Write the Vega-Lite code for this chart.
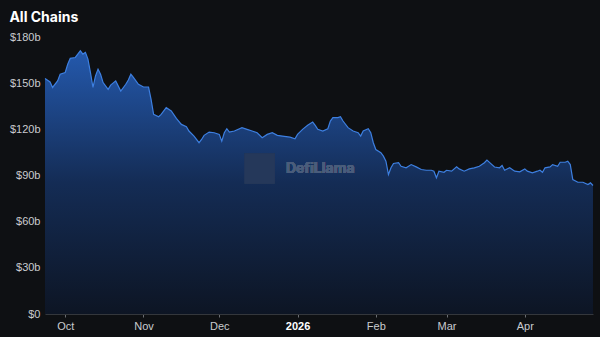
{
  "$schema": "https://vega.github.io/schema/vega-lite/v6.json",
  "width": 548,
  "height": 277,
  "autosize": {"type": "none"},
  "padding": {"left": 45, "top": 37, "right": 7, "bottom": 23},
  "background": "#0e1013",
  "title": {"text": "All Chains", "anchor": "start", "dx": 0, "offset": 6, "color": "#ffffff", "fontSize": 14, "fontWeight": "bold", "font": "Inter"},
  "config": {
    "view": {"stroke": null},
    "axis": {"labelFont": "Liberation Sans", "labelFontSize": 11, "labelColor": "#c9cbcf", "grid": false}
  },
  "data": {"values": [
    {"date": "2025-09-23", "tvl": 153.0},
    {"date": "2025-09-25", "tvl": 150.8},
    {"date": "2025-09-26", "tvl": 147.2},
    {"date": "2025-09-28", "tvl": 151.5},
    {"date": "2025-09-29", "tvl": 155.8},
    {"date": "2025-10-01", "tvl": 156.9},
    {"date": "2025-10-02", "tvl": 162.3},
    {"date": "2025-10-03", "tvl": 166.1},
    {"date": "2025-10-05", "tvl": 166.7},
    {"date": "2025-10-07", "tvl": 171.0},
    {"date": "2025-10-08", "tvl": 168.9},
    {"date": "2025-10-09", "tvl": 170.0},
    {"date": "2025-10-10", "tvl": 165.6},
    {"date": "2025-10-11", "tvl": 156.9},
    {"date": "2025-10-12", "tvl": 147.2},
    {"date": "2025-10-13", "tvl": 154.7},
    {"date": "2025-10-14", "tvl": 159.1},
    {"date": "2025-10-15", "tvl": 155.8},
    {"date": "2025-10-16", "tvl": 150.4},
    {"date": "2025-10-18", "tvl": 146.0},
    {"date": "2025-10-19", "tvl": 148.7},
    {"date": "2025-10-21", "tvl": 151.5},
    {"date": "2025-10-23", "tvl": 144.9},
    {"date": "2025-10-25", "tvl": 149.3},
    {"date": "2025-10-26", "tvl": 152.1},
    {"date": "2025-10-27", "tvl": 155.8},
    {"date": "2025-10-28", "tvl": 153.7},
    {"date": "2025-10-30", "tvl": 149.3},
    {"date": "2025-11-01", "tvl": 147.5},
    {"date": "2025-11-03", "tvl": 147.5},
    {"date": "2025-11-04", "tvl": 139.5},
    {"date": "2025-11-05", "tvl": 129.7},
    {"date": "2025-11-07", "tvl": 128.2},
    {"date": "2025-11-08", "tvl": 129.7},
    {"date": "2025-11-10", "tvl": 134.1},
    {"date": "2025-11-12", "tvl": 131.9},
    {"date": "2025-11-14", "tvl": 127.1},
    {"date": "2025-11-16", "tvl": 123.2},
    {"date": "2025-11-18", "tvl": 121.7},
    {"date": "2025-11-19", "tvl": 118.9},
    {"date": "2025-11-21", "tvl": 115.6},
    {"date": "2025-11-23", "tvl": 111.3},
    {"date": "2025-11-24", "tvl": 113.4},
    {"date": "2025-11-25", "tvl": 116.1},
    {"date": "2025-11-27", "tvl": 118.2},
    {"date": "2025-11-29", "tvl": 117.8},
    {"date": "2025-12-01", "tvl": 116.7},
    {"date": "2025-12-02", "tvl": 112.3},
    {"date": "2025-12-03", "tvl": 117.8},
    {"date": "2025-12-04", "tvl": 120.4},
    {"date": "2025-12-05", "tvl": 118.2},
    {"date": "2025-12-07", "tvl": 118.9},
    {"date": "2025-12-10", "tvl": 121.1},
    {"date": "2025-12-12", "tvl": 120.0},
    {"date": "2025-12-14", "tvl": 118.9},
    {"date": "2025-12-16", "tvl": 117.8},
    {"date": "2025-12-18", "tvl": 114.6},
    {"date": "2025-12-20", "tvl": 116.7},
    {"date": "2025-12-22", "tvl": 117.8},
    {"date": "2025-12-24", "tvl": 116.1},
    {"date": "2025-12-26", "tvl": 115.6},
    {"date": "2025-12-29", "tvl": 114.9},
    {"date": "2025-12-31", "tvl": 113.9},
    {"date": "2026-01-01", "tvl": 116.7},
    {"date": "2026-01-03", "tvl": 120.0},
    {"date": "2026-01-05", "tvl": 122.6},
    {"date": "2026-01-07", "tvl": 124.7},
    {"date": "2026-01-08", "tvl": 122.6},
    {"date": "2026-01-09", "tvl": 120.0},
    {"date": "2026-01-11", "tvl": 118.9},
    {"date": "2026-01-13", "tvl": 120.4},
    {"date": "2026-01-14", "tvl": 125.4},
    {"date": "2026-01-15", "tvl": 127.6},
    {"date": "2026-01-17", "tvl": 127.6},
    {"date": "2026-01-18", "tvl": 128.2},
    {"date": "2026-01-19", "tvl": 125.4},
    {"date": "2026-01-21", "tvl": 121.1},
    {"date": "2026-01-23", "tvl": 118.9},
    {"date": "2026-01-25", "tvl": 117.8},
    {"date": "2026-01-26", "tvl": 115.6},
    {"date": "2026-01-27", "tvl": 118.9},
    {"date": "2026-01-29", "tvl": 120.4},
    {"date": "2026-01-30", "tvl": 117.8},
    {"date": "2026-01-31", "tvl": 111.3},
    {"date": "2026-02-01", "tvl": 106.9},
    {"date": "2026-02-03", "tvl": 104.8},
    {"date": "2026-02-04", "tvl": 102.6},
    {"date": "2026-02-05", "tvl": 99.3},
    {"date": "2026-02-06", "tvl": 90.6},
    {"date": "2026-02-07", "tvl": 95.0},
    {"date": "2026-02-08", "tvl": 97.8},
    {"date": "2026-02-10", "tvl": 98.3},
    {"date": "2026-02-11", "tvl": 96.0},
    {"date": "2026-02-13", "tvl": 95.0},
    {"date": "2026-02-15", "tvl": 97.1},
    {"date": "2026-02-17", "tvl": 95.6},
    {"date": "2026-02-19", "tvl": 93.9},
    {"date": "2026-02-21", "tvl": 93.4},
    {"date": "2026-02-23", "tvl": 93.4},
    {"date": "2026-02-24", "tvl": 92.8},
    {"date": "2026-02-25", "tvl": 88.5},
    {"date": "2026-02-26", "tvl": 92.8},
    {"date": "2026-02-28", "tvl": 92.1},
    {"date": "2026-03-01", "tvl": 93.4},
    {"date": "2026-03-03", "tvl": 92.8},
    {"date": "2026-03-05", "tvl": 95.6},
    {"date": "2026-03-06", "tvl": 94.3},
    {"date": "2026-03-08", "tvl": 92.8},
    {"date": "2026-03-10", "tvl": 94.3},
    {"date": "2026-03-12", "tvl": 95.0},
    {"date": "2026-03-14", "tvl": 96.0},
    {"date": "2026-03-16", "tvl": 98.3},
    {"date": "2026-03-17", "tvl": 100.0},
    {"date": "2026-03-18", "tvl": 98.5},
    {"date": "2026-03-20", "tvl": 95.5},
    {"date": "2026-03-22", "tvl": 95.0},
    {"date": "2026-03-23", "tvl": 96.5},
    {"date": "2026-03-24", "tvl": 93.4},
    {"date": "2026-03-26", "tvl": 95.0},
    {"date": "2026-03-28", "tvl": 92.8},
    {"date": "2026-03-30", "tvl": 92.4},
    {"date": "2026-04-01", "tvl": 94.3},
    {"date": "2026-04-02", "tvl": 92.8},
    {"date": "2026-04-04", "tvl": 91.7},
    {"date": "2026-04-06", "tvl": 92.8},
    {"date": "2026-04-07", "tvl": 93.4},
    {"date": "2026-04-08", "tvl": 92.1},
    {"date": "2026-04-09", "tvl": 95.0},
    {"date": "2026-04-11", "tvl": 95.6},
    {"date": "2026-04-12", "tvl": 97.1},
    {"date": "2026-04-14", "tvl": 96.0},
    {"date": "2026-04-15", "tvl": 98.6},
    {"date": "2026-04-17", "tvl": 98.6},
    {"date": "2026-04-18", "tvl": 99.3},
    {"date": "2026-04-19", "tvl": 97.1},
    {"date": "2026-04-20", "tvl": 87.4},
    {"date": "2026-04-22", "tvl": 85.6},
    {"date": "2026-04-24", "tvl": 85.6},
    {"date": "2026-04-26", "tvl": 84.1},
    {"date": "2026-04-27", "tvl": 85.2},
    {"date": "2026-04-28", "tvl": 83.5}
  ]},
  "encoding": {
    "x": {
      "field": "date", "type": "temporal",
      "scale": {"nice": false},
      "axis": {
        "title": null,
        "tickCount": {"interval": "month", "step": 1},
        "labelExpr": "month(datum.value) == 0 ? timeFormat(datum.value, '%Y') : timeFormat(datum.value, '%b')",
        "labelFontWeight": {"condition": {"test": "month(datum.value) == 0", "value": "bold"}, "value": "normal"},
        "labelColor": {"condition": {"test": "month(datum.value) == 0", "value": "#ffffff"}, "value": "#c9cbcf"},
        "domainColor": "#34373c",
        "tickColor": "#6b6e73",
        "tickSize": 3,
        "labelPadding": 3,
        "labelFlush": false
      }
    },
    "y": {
      "field": "tvl", "type": "quantitative",
      "scale": {"domain": [0, 180], "nice": false},
      "axis": {
        "title": null,
        "values": [0, 30, 60, 90, 120, 150, 180],
        "labelExpr": "datum.value == 0 ? '$0' : '$' + datum.value + 'b'",
        "domain": false,
        "ticks": false,
        "labelPadding": 5
      }
    }
  },
  "layer": [
    {
      "mark": {
        "type": "area",
        "fill": {
          "x1": 0, "y1": 0, "x2": 0, "y2": 1, "gradient": "linear",
          "stops": [
            {"offset": 0, "color": "#2459ad"},
            {"offset": 0.5, "color": "#142c55"},
            {"offset": 1, "color": "#0d1524"}
          ]
        }
      }
    },
    {
      "mark": {"type": "line", "stroke": "#3d7fe0", "strokeWidth": 1.2}
    },
    {
      "mark": {"type": "square", "size": 900, "filled": true, "color": "#25385a", "opacity": 1},
      "encoding": {
        "x": {"datum": {"year": 2025, "month": 12, "date": 17}, "type": "temporal"},
        "y": {"datum": 94.5}
      }
    },
    {
      "mark": {"type": "text", "font": "Inter", "fontSize": 14, "fontWeight": "bold", "color": "#4a5d7c", "opacity": 1, "align": "center", "baseline": "middle"},
      "encoding": {
        "x": {"datum": {"year": 2026, "month": 1, "date": 10}, "type": "temporal"},
        "y": {"datum": 94.5},
        "text": {"value": "DefiLlama"}
      }
    }
  ]
}
